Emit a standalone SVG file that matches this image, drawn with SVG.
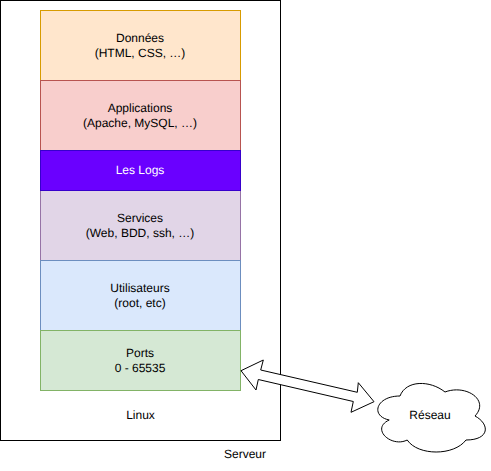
<svg xmlns="http://www.w3.org/2000/svg" width="491" height="471" viewBox="0 0 491 471">
<style>
text{font-family:"Liberation Sans",Arial,sans-serif;font-size:12px;fill:#000;text-anchor:middle;text-rendering:geometricPrecision}
</style>
<rect width="491" height="471" fill="#fff"/>
<g id="serveur"><rect x="0.5" y="0.5" width="280" height="440" fill="#fff" stroke="#000"/><text x="245" y="458">Serveur</text></g>
<g id="linux"><text x="140.5" y="419">Linux</text></g>
<g id="donnees"><rect x="40.5" y="10.5" width="200" height="70" fill="#ffe6cc" stroke="#d79b00"/><text x="140" y="42">Données</text><text x="140" y="57">(HTML, CSS, …)</text></g>
<g id="applications"><rect x="40.5" y="80.5" width="200" height="70" fill="#f8cecc" stroke="#b85450"/><text x="140" y="112">Applications</text><text x="140" y="127">(Apache, MySQL, …)</text></g>
<g id="services"><rect x="40.5" y="190.5" width="200" height="70" fill="#e1d5e7" stroke="#9673a6"/><text x="140" y="222">Services</text><text x="140" y="237">(Web, BDD, ssh, …)</text></g>
<g id="logs"><rect x="40.5" y="150.5" width="200" height="40" fill="#6a00ff" stroke="#3700cc"/><text x="140" y="174" style="fill:#fff">Les Logs</text></g>
<g id="utilisateurs"><rect x="40.5" y="260.5" width="200" height="70" fill="#dae8fc" stroke="#6c8ebf"/><text x="140" y="292">Utilisateurs</text><text x="140" y="307">(root, etc)</text></g>
<g id="ports"><rect x="40.5" y="330.5" width="200" height="60" fill="#d5e8d4" stroke="#82b366"/><text x="140" y="357">Ports</text><text x="140" y="372">0 - 65535</text></g>
<g id="connectors"><path d="M241 370.7L263.3 360L260.7 370L357.3 392.3L358.3 382.7L374 401.7L351 412.3L353.3 401.5L258.3 379.5L256 390Z" fill="#fff" stroke="#000"/></g>
<g id="reseau"><path d="M400 396C376 396 370 416 389.200 420C370 428.800 391.600 448 407.200 440C418 456 454 456 466 440C490 440 490 424 475 416C490 400 466 384 445 392C430 380 406 380 400 396Z" fill="#fff" stroke="#000"/><text x="430" y="419">Réseau</text></g>
</svg>
